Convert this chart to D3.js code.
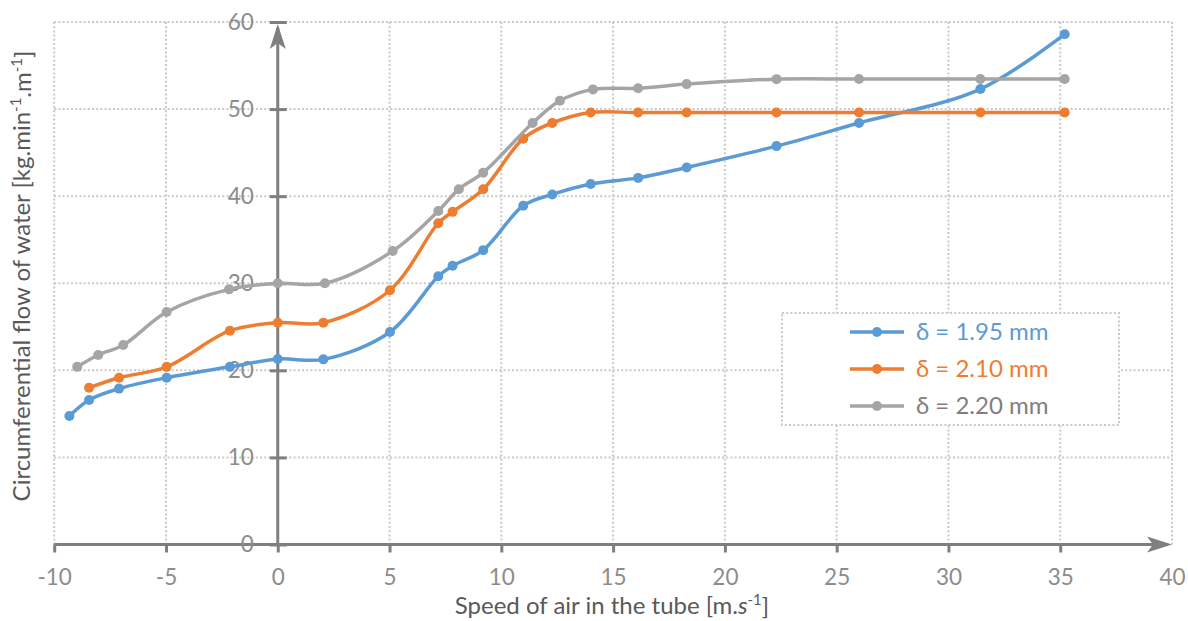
<!DOCTYPE html>
<html>
<head>
<meta charset="utf-8">
<script src="https://cdn.jsdelivr.net/npm/d3@7"></script>
<style>
  body { margin:0; background:#fff; }
  text { font-family: Lato, "Open Sans", sans-serif; }
</style>
</head>
<body>
<div id="canvas" class="canvas" style="width:1188px;height:621px;"></div>
<script>
// --- data
var xBlue   = [-9.32, -8.44, -7.1, -4.97, -2.14, 0, 2.04, 5.02, 7.18, 7.82, 9.19, 10.98, 12.28, 14.0, 16.12, 18.29, 22.31, 26.0, 31.43, 35.2];
var yBlue   = [14.75, 16.6, 17.9, 19.15, 20.4, 21.3, 21.26, 24.4, 30.8, 32.0, 33.8, 38.9, 40.2, 41.4, 42.1, 43.3, 45.75, 48.4, 52.3, 58.6];
var xOrange = [-8.44, -7.1, -4.97, -2.14, 0, 2.04, 5.02, 7.18, 7.82, 9.19, 10.98, 12.28, 14.0, 16.12, 18.29, 22.31, 26.0, 31.43, 35.2];
var yOrange = [18.0, 19.15, 20.4, 24.55, 25.47, 25.47, 29.2, 36.9, 38.2, 40.8, 46.6, 48.4, 49.6, 49.6, 49.6, 49.6, 49.6, 49.6, 49.6];
var xGray   = [-8.97, -8.03, -6.91, -4.97, -2.18, 0, 2.11, 5.14, 7.18, 8.1, 9.19, 11.4, 12.62, 14.1, 16.12, 18.29, 22.31, 26.0, 31.43, 35.2];
var yGray   = [20.4, 21.76, 22.9, 26.7, 29.3, 30.0, 30.0, 33.7, 38.3, 40.8, 42.7, 48.4, 50.95, 52.26, 52.4, 52.87, 53.44, 53.45, 53.45, 53.45];

var seriesNames = ["\u03b4 = 1.95 mm", "\u03b4 = 2.10 mm", "\u03b4 = 2.20 mm"];
var xTicks = [-10, -5, 0, 5, 10, 15, 20, 25, 30, 35, 40];
var yTicks = [0, 10, 20, 30, 40, 50, 60];

var colors = ["#5b9bd5", "#ed7d31", "#a5a5a5"];
var axisCol = "#7f7f7f";
var gridCol = "#c9c9c9";

// --- size
var outerWidth = 1188, outerHeight = 621;

var svg = d3.select('.canvas')
    .append('svg')
    .attr('width', outerWidth)
    .attr('height', outerHeight);

// --- scales
var x = d3.scaleLinear().domain([-10, 40]).range([54.2, 1172]);
var y = d3.scaleLinear().domain([0, 60]).range([544.5, 22]);

// --- grid (dotted)
var grid = svg.append('g')
    .attr('stroke', gridCol)
    .attr('stroke-width', 2)
    .attr('stroke-dasharray', '2,2.2');

grid.selectAll('.vg')
    .data(xTicks)
    .enter().append('line')
    .attr('x1', function(d){ return x(d); })
    .attr('x2', function(d){ return x(d); })
    .attr('y1', y(60))
    .attr('y2', y(0));

grid.selectAll('.hg')
    .data(yTicks.slice(1))
    .enter().append('line')
    .attr('x1', x(-10))
    .attr('x2', x(40))
    .attr('y1', function(d){ return y(d); })
    .attr('y2', function(d){ return y(d); });

// --- series
var series = [
  {name: seriesNames[0], col: colors[0], xs: xBlue,   ys: yBlue},
  {name: seriesNames[1], col: colors[1], xs: xOrange, ys: yOrange},
  {name: seriesNames[2], col: colors[2], xs: xGray,   ys: yGray}
];

var line = d3.line()
    .x(function(d){ return x(d[0]); })
    .y(function(d){ return y(d[1]); })
    .curve(d3.curveCatmullRom.alpha(0.5));

// --- axes (drawn before series, under the lines)
var axG = svg.append('g');

// x axis
var xAxis = d3.axisBottom(x).tickValues(xTicks).tickSizeInner(8).tickSizeOuter(0);
var gx = axG.append('g')
    .attr('transform', 'translate(0,' + y(0) + ')')
    .call(xAxis);
gx.select('.domain').remove();
gx.selectAll('line').attr('stroke', axisCol).attr('stroke-width', 3);
gx.selectAll('text')
    .attr('y', 33)
    .attr('dy', '0.35em')
    .attr('fill', '#8c8c8c')
    .attr('font-size', '22.5px')
    .text(function(d){ return d; });
gx.selectAll('.tick').filter(function(d){ return d === 40; }).select('line').remove();

axG.append('line')
    .attr('x1', x(-10)).attr('x2', x(40) - 4)
    .attr('y1', y(0)).attr('y2', y(0))
    .attr('stroke', axisCol).attr('stroke-width', 3);

// arrow right
axG.append('path')
    .attr('d', 'M' + x(40) + ',' + y(0) + ' l-25,-8 l6,8 l-6,8 z')
    .attr('fill', axisCol);

// y axis
var yAxis = d3.axisLeft(y).tickValues(yTicks).tickSizeInner(8).tickSizeOuter(0).tickPadding(16);
var gy = axG.append('g')
    .attr('transform', 'translate(' + x(0) + ',0)')
    .call(yAxis);
gy.select('.domain').remove();
gy.selectAll('line').attr('x2', -8).attr('x1', 9).attr('stroke', axisCol).attr('stroke-width', 3);
gy.selectAll('text')
    .attr('fill', '#8c8c8c')
    .attr('font-size', '22.5px');

axG.append('line')
    .attr('x1', x(0)).attr('x2', x(0))
    .attr('y1', y(0) + 1).attr('y2', y(60) + 6)
    .attr('stroke', axisCol).attr('stroke-width', 3);

// arrow up
axG.append('path')
    .attr('d', 'M' + x(0) + ',' + (y(60) + 2) + ' l-8,25 l8,-6 l8,6 z')
    .attr('fill', axisCol);

// --- draw series
series.forEach(function(s){
  var pts = s.xs.map(function(v, i){ return [v, s.ys[i]]; });
  var g = svg.append('g');
  g.append('path')
      .attr('d', line(pts))
      .attr('fill', 'none')
      .attr('stroke', s.col)
      .attr('stroke-width', 3.5);
  g.selectAll('circle')
      .data(pts)
      .enter().append('circle')
      .attr('cx', function(d){ return x(d[0]); })
      .attr('cy', function(d){ return y(d[1]); })
      .attr('r', 5)
      .attr('fill', s.col);
});

// --- legend
var leg = svg.append('g');
leg.append('rect')
    .attr('x', 782).attr('y', 313)
    .attr('width', 337).attr('height', 112)
    .attr('fill', '#fff')
    .attr('stroke', gridCol)
    .attr('stroke-width', 2)
    .attr('stroke-dasharray', '2,2.2');

var legRow = leg.selectAll('.row')
    .data(series)
    .enter().append('g')
    .attr('transform', function(d, i){ return 'translate(0,' + (332 + i * 37) + ')'; });

legRow.append('line')
    .attr('x1', 850).attr('x2', 904)
    .attr('stroke', function(d){ return d.col; })
    .attr('stroke-width', 3.5);
legRow.append('circle')
    .attr('cx', 877).attr('r', 5)
    .attr('fill', function(d){ return d.col; });
legRow.append('text')
    .attr('x', 916)
    .attr('dy', '0.35em')
    .attr('font-size', '24px')
    .attr('fill', function(d, i){ return i === 2 ? '#7f7f7f' : d.col; })
    .text(function(d){ return d.name; });

// --- axis titles
var xt = svg.append('text')
    .attr('x', 612).attr('y', 606)
    .attr('dy', '0.35em')
    .attr('text-anchor', 'middle')
    .attr('font-size', '24px')
    .attr('fill', '#595959');
xt.append('tspan').text('Speed of air in the tube [m.');
xt.append('tspan').attr('font-style', 'italic').text('s');
xt.append('tspan').attr('font-size', '15px').attr('dy', '-0.6em').text('-1');
xt.append('tspan').attr('dy', '0.4em').text(']');

var yt = svg.append('text')
    .attr('transform', 'translate(22,276) rotate(-90)')
    .attr('dy', '0.35em')
    .attr('text-anchor', 'middle')
    .attr('font-size', '24px')
    .attr('fill', '#595959');
yt.append('tspan').text('Circumferential flow of water [kg.min');
yt.append('tspan').attr('font-size', '15px').attr('dy', '-0.6em').text('-1');
yt.append('tspan').attr('dy', '0.4em').text('.m');
yt.append('tspan').attr('font-size', '15px').attr('dy', '-0.6em').text('-1');
yt.append('tspan').attr('dy', '0.4em').text(']');
</script>
</body>
</html>
